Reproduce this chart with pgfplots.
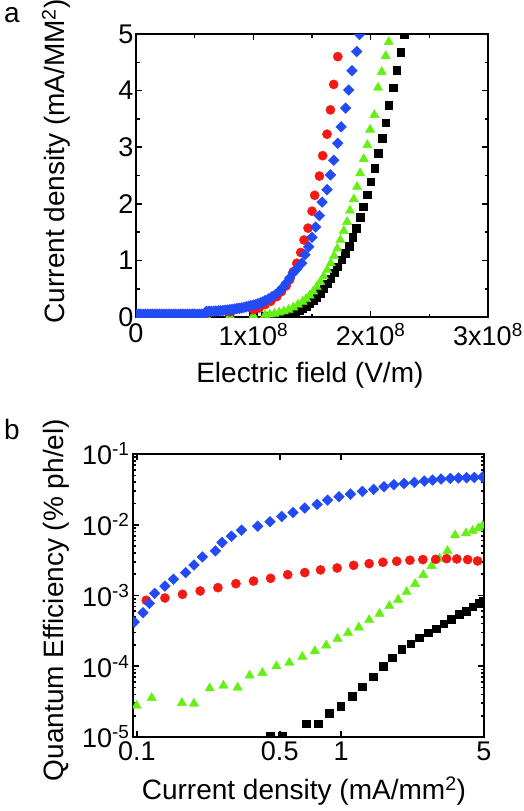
\documentclass[border=0pt]{standalone}
\usepackage{pgfplots}
\pgfplotsset{compat=1.18}
\usepackage{fontspec}
\setmainfont{Liberation Sans}
\definecolor{cred}{RGB}{245,25,20}
\definecolor{cblue}{RGB}{35,75,245}
\definecolor{cgreen}{RGB}{100,240,20}
\begin{document}
\begin{tikzpicture}
\useasboundingbox (0,0) rectangle (523pt,-811pt);
\pgfplotsset{
  myaxis/.style={
    scale only axis,
    axis line style={line width=2.6pt},
    tick style={line width=1.6pt, black},
    major tick length=6pt,
    minor tick length=3.5pt,
    tick align=inside,
    clip marker paths=true,
    /pgf/number format/assume math mode=true,
    tick label style={font=\fontsize{27}{27}\selectfont},
    label style={font=\fontsize{28}{30}\selectfont},
  },
  pblack/.style={only marks, mark=square*, mark size=3.8pt, color=black},
  pgreen/.style={only marks, mark=triangle*, mark size=5.4pt, color=cgreen},
  pred/.style={only marks, mark=*, mark size=4.6pt, color=cred},
  pblue/.style={only marks, mark=square*, mark size=3.8pt, mark options={rotate=45}, color=cblue},
}
\node[font=\fontsize{28}{30}\selectfont] at (12pt,-15pt) {a};
\node[font=\fontsize{28}{30}\selectfont] at (12pt,-429pt) {b};
% ---------------- panel a
\begin{axis}[myaxis,
  at={(136pt,-317pt)}, anchor=south west,
  width=352pt, height=283pt,
  xmin=0, xmax=3, ymin=0, ymax=5,
  xtick={0,1,2,3}, xticklabels={0,1x10\textsuperscript{8},2x10\textsuperscript{8},3x10\textsuperscript{8}},
  minor xtick={0.5,1.5,2.5},
  ytick={0,1,2,3,4,5}, minor ytick={0.5,1.5,2.5,3.5,4.5},
  xticklabel style={yshift=-3pt},
  yticklabel style={xshift=1pt},
  xlabel={Electric field (V/m)},
  ylabel={Current density (mA/MM\textsuperscript{2})},
  xlabel style={at={(axis description cs:0.494,-0.205)}, anchor=center},
  ylabel style={at={(axis description cs:-0.227,0.55)}, anchor=center},
]
\addplot[pblack] coordinates {
(0.0,0.005)(0.2,0.005)(0.4,0.005)(0.6,0.005)(0.8,0.005)(1.0,0.01)(1.1,0.015)(1.18,0.02)(1.22,0.025)(1.26,0.035)(1.30,0.05)(1.33,0.07)(1.36,0.09)(1.39,0.12)(1.42,0.15)(1.45,0.19)(1.48,0.24)(1.51,0.29)(1.54,0.35)(1.57,0.42)(1.60,0.50)(1.63,0.59)(1.66,0.68)(1.69,0.78)
(1.716,0.89)(1.753,1.01)(1.785,1.13)(1.816,1.25)(1.847,1.41)(1.878,1.57)(1.910,1.76)(1.938,1.95)(1.969,2.16)(2.001,2.39)(2.035,2.63)(2.063,2.89)(2.097,3.16)(2.128,3.43)(2.154,3.74)(2.194,4.05)(2.222,4.36)(2.256,4.68)(2.285,5.0)
};
\addplot[pgreen] coordinates {
(0.0,0.01)(0.2,0.01)(0.4,0.01)(0.6,0.015)(0.8,0.02)(1.0,0.025)(1.10,0.035)(1.14,0.045)(1.18,0.06)(1.22,0.08)(1.26,0.10)(1.30,0.13)(1.34,0.17)(1.38,0.22)(1.42,0.27)(1.45,0.32)(1.48,0.38)(1.51,0.45)(1.54,0.53)(1.57,0.62)(1.60,0.72)(1.63,0.83)
(1.660,0.95)(1.688,1.08)(1.716,1.21)(1.742,1.36)(1.771,1.52)(1.799,1.68)(1.824,1.88)(1.856,2.08)(1.884,2.30)(1.910,2.54)(1.941,2.79)(1.972,3.04)(1.995,3.31)(2.032,3.57)(2.063,4.05)(2.094,4.33)(2.128,4.61)(2.154,4.86)
};
\addplot[pred] coordinates {
(0.0,0.02)(0.2,0.02)(0.4,0.03)(0.6,0.06)(0.8,0.09)(1.0,0.13)(1.05,0.16)(1.10,0.22)(1.15,0.28)(1.20,0.36)(1.24,0.45)(1.28,0.55)(1.31,0.66)(1.34,0.80)
(1.370,0.95)(1.404,1.14)(1.432,1.36)(1.466,1.57)(1.500,1.87)(1.523,2.15)(1.563,2.49)(1.591,2.85)(1.628,3.23)(1.657,3.66)(1.685,4.11)(1.720,4.60)
};
\addplot[pblue] coordinates {
(0.00,0.05)(0.02,0.05)(0.04,0.05)(0.06,0.05)(0.08,0.05)(0.10,0.05)(0.12,0.05)(0.14,0.05)(0.16,0.05)(0.18,0.05)(0.20,0.05)(0.22,0.05)(0.24,0.05)(0.26,0.05)(0.28,0.05)(0.30,0.05)(0.32,0.05)(0.34,0.05)(0.36,0.05)(0.38,0.05)(0.40,0.05)(0.42,0.05)(0.44,0.05)(0.46,0.05)(0.48,0.05)(0.50,0.05)(0.52,0.05)(0.54,0.05)(0.56,0.05)(0.58,0.05)
(0.60,0.10)(0.62,0.10)(0.64,0.10)(0.66,0.10)(0.68,0.105)(0.70,0.11)(0.72,0.11)(0.74,0.115)(0.76,0.12)(0.78,0.125)(0.80,0.13)(0.82,0.135)(0.84,0.14)(0.86,0.15)(0.88,0.155)(0.90,0.16)(0.92,0.17)(0.94,0.18)(0.96,0.19)(0.98,0.20)(1.00,0.21)(1.02,0.22)(1.04,0.235)(1.06,0.25)(1.08,0.265)(1.10,0.29)(1.13,0.32)(1.16,0.36)(1.19,0.40)(1.22,0.45)(1.25,0.52)(1.28,0.60)(1.31,0.69)(1.34,0.78)(1.37,0.85)
(1.413,0.95)(1.441,1.10)(1.472,1.24)(1.500,1.41)(1.532,1.59)(1.563,1.79)(1.586,2.03)(1.628,2.25)(1.657,2.51)(1.685,2.77)(1.720,3.07)(1.748,3.36)(1.787,3.69)(1.813,4.01)(1.841,4.35)(1.881,4.69)(1.905,4.99)
};
\end{axis}
% ---------------- panel b
\begin{axis}[myaxis,
  at={(133pt,-737pt)}, anchor=south west,
  width=351pt, height=283pt,
  xmode=log, ymode=log,
  xmin=0.0956, xmax=5, ymin=1e-5, ymax=1e-1,
  xtick={0.1,0.5,1,5}, xticklabels={0.1,0.5,1,5},
  xminorticks=false,
  ytick={1e-5,1e-4,1e-3,1e-2,1e-1},
  yticklabels={10\textsuperscript{-5},10\textsuperscript{-4},10\textsuperscript{-3},10\textsuperscript{-2},10\textsuperscript{-1}},
  xticklabel style={yshift=-1pt},
  xlabel={Current density (mA/mm\textsuperscript{2})},
  ylabel={Quantum Efficiency (\% ph/el)},
  xlabel style={at={(axis description cs:0.487,-0.19)}, anchor=center},
  ylabel style={at={(axis description cs:-0.219,0.484)}, anchor=center},
]
\addplot[pblack] coordinates {
(0.450,1.02e-5)(0.513,1.02e-5)(0.676,1.55e-5)(0.771,1.55e-5)(0.873,2.19e-5)(0.993,2.72e-5)(1.13,3.77e-5)(1.27,5.11e-5)(1.43,7.08e-5)(1.60,1.00e-4)(1.78,1.32e-4)(1.98,1.73e-4)(2.19,2.08e-4)(2.41,2.53e-4)(2.66,2.97e-4)(2.92,3.39e-4)(3.17,3.99e-4)(3.45,4.59e-4)(3.77,5.41e-4)(4.08,6.03e-4)(4.40,6.94e-4)(4.71,7.75e-4)(4.92,8.36e-4)
};
\addplot[pgreen] coordinates {
(0.0996,2.78e-5)(0.118,3.57e-5)(0.166,3.03e-5)(0.190,2.97e-5)(0.227,4.89e-5)(0.265,5.33e-5)(0.311,5.00e-5)(0.356,7.40e-5)(0.411,8.07e-5)(0.481,1.00e-4)(0.557,1.12e-4)(0.645,1.36e-4)(0.743,1.64e-4)(0.844,1.97e-4)(0.959,2.45e-4)(1.08,2.97e-4)(1.22,3.54e-4)(1.37,4.50e-4)(1.54,5.53e-4)(1.72,7.10e-4)(1.90,8.72e-4)(2.09,1.12e-3)(2.30,1.46e-3)(2.52,1.95e-3)(2.77,2.62e-3)(3.03,3.32e-3)(3.31,4.27e-3)(3.61,7.11e-3)(4.08,7.60e-3)(4.40,8.21e-3)(4.69,8.95e-3)(4.92,9.66e-3)
};
\addplot[pred] coordinates {
(0.111,8.55e-4)(0.137,9.23e-4)(0.167,1.04e-3)(0.204,1.16e-3)(0.249,1.29e-3)(0.305,1.47e-3)(0.372,1.60e-3)(0.451,1.75e-3)(0.547,1.97e-3)(0.663,2.11e-3)(0.792,2.30e-3)(0.955,2.45e-3)(1.15,2.67e-3)(1.37,2.82e-3)(1.60,2.95e-3)(1.87,3.05e-3)(2.17,3.15e-3)(2.51,3.22e-3)(2.90,3.25e-3)(3.28,3.32e-3)(3.68,3.29e-3)(4.16,3.22e-3)(4.65,3.08e-3)
};
\addplot[pblue] coordinates {
(0.097,4.22e-4)(0.107,5.71e-4)(0.115,7.75e-4)(0.122,1.07e-3)(0.137,1.36e-3)(0.151,1.70e-3)(0.173,2.11e-3)(0.190,2.70e-3)(0.209,3.51e-3)(0.242,4.27e-3)(0.261,5.61e-3)(0.290,6.89e-3)(0.325,8.38e-3)(0.390,9.55e-3)(0.448,1.10e-2)(0.511,1.31e-2)(0.581,1.49e-2)(0.663,1.72e-2)(0.762,1.94e-2)(0.857,2.23e-2)(0.975,2.49e-2)(1.11,2.71e-2)(1.27,2.96e-2)(1.44,3.16e-2)(1.62,3.44e-2)(1.81,3.68e-2)(2.03,3.84e-2)(2.28,3.97e-2)(2.55,4.14e-2)(2.80,4.28e-2)(3.08,4.42e-2)(3.42,4.52e-2)(3.75,4.57e-2)(4.11,4.62e-2)(4.48,4.67e-2)(4.92,4.72e-2)
};
\end{axis}
\end{tikzpicture}
\end{document}
